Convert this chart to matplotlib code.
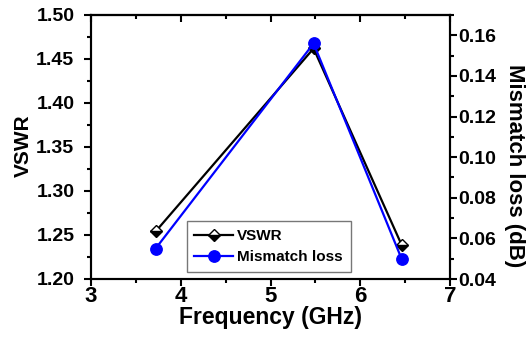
import matplotlib
matplotlib.use("Agg")
import matplotlib.pyplot as plt
from matplotlib.ticker import MultipleLocator, FormatStrFormatter

plt.rcParams['font.family'] = ['Liberation Sans', 'DejaVu Sans']
plt.rcParams['font.weight'] = 'bold'

freq = [3.72, 5.48, 6.46]
vswr = [1.254, 1.462, 1.239]
mismatch = [0.055, 0.156, 0.050]

fig = plt.figure(figsize=(5.32, 3.37), dpi=100)
ax = fig.add_axes([91/532, 1-279/337, 359/532, 264/337])
ax2 = ax.twinx()

l1, = ax.plot(freq, vswr, color='black', lw=1.6, marker='D', markersize=6.5,
              fillstyle='bottom', markerfacecolor='black', markerfacecoloralt='white',
              markeredgecolor='black', markeredgewidth=1.0, label='VSWR', zorder=3)
l2, = ax2.plot(freq, mismatch, color='#0000ff', lw=1.6, marker='o', markersize=8.2,
               markerfacecolor='#0000ff', markeredgecolor='#0000ff', label='Mismatch loss')

ax.set_xlim(3, 7)
ax.set_ylim(1.20, 1.50)
ax2.set_ylim(0.04, 0.17)
ax.xaxis.set_major_locator(MultipleLocator(1))
ax.xaxis.set_minor_locator(MultipleLocator(0.5))
ax.yaxis.set_major_locator(MultipleLocator(0.05))
ax.yaxis.set_minor_locator(MultipleLocator(0.025))
ax2.yaxis.set_major_locator(MultipleLocator(0.02))
ax2.yaxis.set_minor_locator(MultipleLocator(0.01))
ax.yaxis.set_major_formatter(FormatStrFormatter('%.2f'))
ax2.yaxis.set_major_formatter(FormatStrFormatter('%.2f'))

for a in (ax, ax2):
    for s in a.spines.values():
        s.set_linewidth(1.5)

ax.tick_params(axis='x', which='both', direction='out', top=False, width=1.5)
ax.tick_params(axis='x', which='major', length=5, labelsize=16, pad=0)
ax.tick_params(axis='x', which='minor', length=3)
ax.tick_params(axis='y', which='both', direction='out', width=1.5, right=False)
ax.tick_params(axis='y', which='major', length=5, labelsize=14, pad=7)
ax.tick_params(axis='y', which='minor', length=3)
ax2.tick_params(axis='y', which='both', direction='out', width=1.5)
ax2.tick_params(axis='y', which='major', length=5, labelsize=14, pad=1)
ax2.tick_params(axis='y', which='minor', length=3)

sec = ax.secondary_xaxis('top')
sec.xaxis.set_major_locator(MultipleLocator(1))
sec.xaxis.set_minor_locator(MultipleLocator(0.5))
sec.tick_params(axis='x', which='both', direction='in', width=1.5, labeltop=False)
sec.tick_params(axis='x', which='major', length=5)
sec.tick_params(axis='x', which='minor', length=3)
sec.spines['top'].set_linewidth(1.5)

ax.set_xlabel('Frequency (GHz)', fontsize=16.5, fontweight='bold', labelpad=-1)
ax.set_ylabel('VSWR', fontsize=15, fontweight='bold', va='center', ha='center')
ax.yaxis.set_label_coords((23 - 91) / 359, (279 - 145.5) / 264)
ax2.set_ylabel('Mismatch loss (dB)', fontsize=16, fontweight='bold', rotation=270,
               va='center', ha='center')
ax2.yaxis.set_label_coords((515 - 91) / 359, (279 - 166) / 264)

leg = ax.legend(handles=[l1, l2], loc='lower left', bbox_to_anchor=(0.267, 0.028),
                borderaxespad=0, frameon=True, fancybox=False, edgecolor='#555555',
                handlelength=2.5, handletextpad=0.3, borderpad=0.5, labelspacing=0.45,
                prop={'weight': 'bold', 'size': 11})
leg.get_frame().set_linewidth(1.0)
leg.set_zorder(5)

fig.savefig('out.png', dpi=100)
